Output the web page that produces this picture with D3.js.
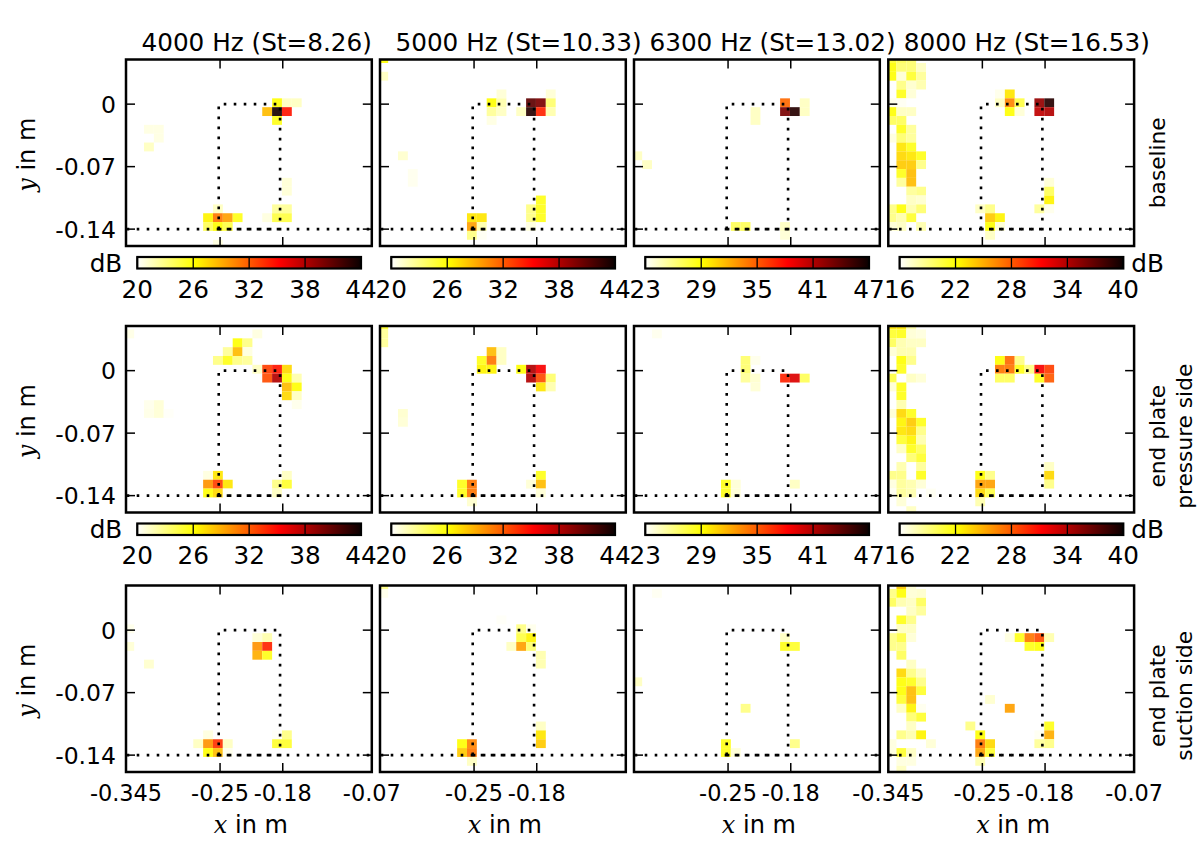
<!DOCTYPE html>
<html><head><meta charset="utf-8">
<script src="https://cdnjs.cloudflare.com/ajax/libs/d3/7.8.5/d3.min.js"></script>
<style>
html,body{margin:0;padding:0;background:#fff}
text{font-family:"DejaVu Sans";fill:#000}
</style></head><body><svg id="c" width="1200" height="847"></svg>
<script>
// Titles, rows, axis labels
const frequencies = ["4000 Hz (St=8.26)","5000 Hz (St=10.33)","6300 Hz (St=13.02)","8000 Hz (St=16.53)"];
const rowLabels = [["baseline"],["end plate","pressure side"],["end plate","suction side"]];
const colorRanges = [[20,44],[20,44],[23,47],[16,40]];
const colorTicks = [[20,26,32,38,44],[20,26,32,38,44],[23,29,35,41,47],[16,22,28,34,40]];
const xTickVals = [-0.25,-0.18];
const yTickVals = [0,-0.07,-0.14];
const yTickLabels = ["0","-0.07","-0.14"];
const outlineX = [-0.2515,-0.2515,-0.183,-0.183,-0.2515];
const outlineY = [-0.14,0,0,-0.14,-0.14];
// Cells: [grid column, grid row, level in dB]
const baseline4000 = [[2,8,20.7],[3,8,20.7],[3,9,20.7],[2,10,21.5],[15,5,26],[16,5,21.5],[17,5,21.5],[14,6,28.5],[15,6,43.5],[16,6,34.5],[15,7,25.5],[16,14,21],[16,15,21],[15,17,22.5],[16,17,22.5],[14,18,20.8],[15,18,24.5],[16,18,24.5],[9,17,21.5],[8,18,26.5],[9,18,31],[10,18,29.5],[11,18,25.5],[8,19,24],[9,19,26],[10,19,24.5],[9,21,20.8]];
const baseline5000 = [[0,0,26],[0,2,21.5],[2,11,21.2],[3,13,20.4],[3,14,20.4],[12,4,21],[11,5,26],[12,5,22],[11,6,22.5],[12,6,21.5],[11,7,20.7],[14,6,21.5],[15,5,41],[16,5,40],[15,6,43],[16,6,34],[17,4,21],[17,5,23.5],[17,6,22],[16,16,25.5],[15,17,23],[16,17,25.5],[15,18,23],[16,18,25.5],[15,19,20.8],[9,18,27],[10,18,27],[9,19,29.5],[10,19,22],[9,20,23],[10,20,20.3]];
const baseline6300 = [[0,11,24.5],[1,12,24.5],[12,6,24.5],[12,7,24.5],[15,5,34.5],[15,6,43],[16,6,46],[17,5,24.5],[17,6,24.5],[10,19,27],[11,19,27],[15,19,24.5],[15,20,24]];
const baseline8000 = [[0,0,21],[0,1,22],[0,2,22],[1,0,20],[1,1,19.5],[1,2,17],[1,3,19],[1,4,21.5],[2,0,19.5],[2,1,19.5],[2,2,21],[2,3,17.2],[2,4,17],[3,1,17.5],[3,2,18.5],[3,3,18],[0,5,16.5],[1,5,16.3],[0,6,22],[1,6,17.5],[2,6,17.5],[0,7,20],[1,7,20],[1,8,21.5],[2,8,18.5],[0,9,16.8],[1,9,19.5],[2,9,18.5],[1,10,23],[2,10,21.5],[1,11,23.5],[2,11,23],[3,11,21.5],[1,12,24],[2,12,24],[3,12,19],[1,13,21.5],[2,13,24.5],[1,14,18.5],[2,14,24.5],[2,15,18.5],[3,15,19],[2,16,17.5],[3,16,17.2],[0,17,19],[1,17,22],[2,17,18],[3,17,19.5],[0,18,19],[1,18,18],[2,18,21],[0,19,17],[1,19,17.5],[3,19,18],[11,4,16.5],[12,4,23],[11,5,17.5],[12,5,26.5],[13,5,20.5],[12,6,22],[13,6,17],[15,5,35],[16,5,39],[15,6,33.5],[16,6,34],[16,14,17],[16,15,20],[16,16,22.5],[16,17,16.5],[15,17,18.5],[9,17,17.5],[10,17,19],[10,18,24],[11,18,22.5],[10,19,22],[11,19,17],[10,20,17.5]];
const pressure4000 = [[0,1,20.6],[13,1,20.8],[11,2,26],[12,2,23],[10,3,22.5],[11,3,28.5],[12,3,20.8],[9,4,23],[10,4,25.5],[11,4,23],[12,4,22.5],[13,5,21.5],[14,5,33],[15,5,34.5],[16,5,27.5],[14,6,32.5],[15,6,38],[16,6,26],[17,6,22],[16,7,28.5],[17,7,26],[16,8,27.5],[17,8,21.5],[17,9,20.5],[2,9,20.5],[3,9,21],[2,10,20.6],[3,10,21],[4,10,20.2],[8,17,20.8],[9,17,27],[8,18,30],[9,18,33],[10,18,27],[8,19,26],[9,19,27.5],[10,19,20.2],[16,17,21.5],[15,18,23],[16,18,25],[15,19,21.5]];
const pressure5000 = [[0,0,25],[0,1,22.5],[0,2,22.5],[2,10,21.2],[2,11,21],[11,3,28.5],[12,3,21.5],[10,4,25.5],[11,4,31],[12,4,21.5],[10,5,26.5],[11,5,26.5],[14,5,26],[15,5,38],[16,5,35.5],[15,6,38],[16,6,32.5],[17,6,23.5],[16,7,27],[17,7,22],[16,17,25.5],[15,18,21],[16,18,28.5],[16,19,21],[8,18,25.5],[8,19,25.5],[9,18,31],[9,19,31],[9,20,21.2]];
const pressure6300 = [[2,1,23.4],[11,4,26.5],[11,5,26.5],[11,6,25.5],[12,4,23.5],[12,6,24.2],[12,7,24],[15,6,37],[16,6,39.5],[17,6,27],[9,18,28.5],[9,19,28.5],[10,18,24],[10,19,24],[16,18,24.5]];
const pressure8000 = [[0,0,23],[1,0,23],[2,0,18],[0,1,21],[1,1,21.5],[2,1,17],[3,1,16.8],[0,2,20],[1,2,18],[2,2,17.5],[3,2,17.5],[0,3,17],[1,3,18],[2,3,18],[1,4,22],[2,4,19],[1,5,21.5],[0,6,20.5],[2,6,17.5],[3,6,17],[0,7,17],[1,7,21.5],[1,8,21.5],[1,9,18],[0,10,17],[1,10,23.5],[2,10,21.5],[1,11,22.5],[2,11,24],[3,11,21.5],[1,12,23],[2,12,23.5],[3,12,19],[1,13,21],[2,13,22.5],[3,13,18],[1,14,17.5],[2,14,21.5],[3,14,20],[2,15,19.5],[3,15,21],[1,16,18],[3,16,18.5],[0,17,19],[1,17,19],[3,17,21.5],[0,18,16.8],[1,18,18.5],[2,18,18],[3,18,17],[0,19,16.3],[1,19,18.5],[2,19,18],[4,19,16.3],[1,20,17],[2,21,17.5],[11,4,22],[12,4,27.5],[13,4,19],[11,5,27],[12,5,27],[13,5,21.5],[14,5,19],[11,6,20],[12,6,20],[15,5,31.5],[16,5,29],[15,6,21.5],[16,6,28],[16,16,17.5],[16,17,23.5],[16,18,19],[9,17,22],[10,17,19],[9,18,25.5],[10,18,25.5],[9,19,23.5],[10,19,20.5],[9,20,18]];
const suction4000 = [[0,5,20.5],[0,7,21],[2,9,21.2],[13,6,21],[14,6,22],[13,7,30],[14,7,34],[13,8,29],[14,8,25.5],[8,17,20.8],[7,18,21.5],[8,18,30],[9,18,33.5],[10,18,21.5],[8,19,26],[9,19,28.5],[10,19,20.5],[16,17,23],[15,17,20.2],[15,18,25],[16,18,25]];
const suction5000 = [[0,0,23],[0,1,20.5],[12,4,20.2],[14,5,23],[15,5,20.5],[14,6,24.5],[15,6,26.5],[13,7,21.5],[14,7,29.5],[15,7,23.5],[16,8,22],[16,9,22],[16,16,21.5],[16,17,27],[16,18,28],[8,18,26],[8,19,28],[9,18,30.5],[9,19,31],[9,20,21.5]];
const suction6300 = [[2,1,23.3],[0,11,24.5],[15,6,24.5],[15,7,28.5],[16,7,28],[11,14,26],[9,18,28.5],[9,19,28.5],[10,19,24],[16,18,26]];
const suction8000 = [[1,0,24],[2,0,17],[0,1,19],[1,1,22],[2,1,17],[3,1,17.2],[0,2,20],[1,2,18],[2,2,17.5],[3,2,20],[2,3,17.5],[3,3,18.5],[1,4,21.5],[2,4,19],[1,5,17.5],[2,5,17.5],[0,6,19],[1,6,20.5],[2,6,17],[0,7,19],[1,7,19],[1,8,20],[2,9,17.5],[1,10,23.5],[2,10,19],[3,10,17.5],[1,11,22],[2,11,21.5],[3,11,19],[1,12,22],[2,12,24.5],[3,12,21],[1,13,21],[2,13,24.5],[1,14,17.5],[2,14,22.5],[3,14,16.4],[2,15,19.5],[3,15,21],[2,16,17.5],[1,17,19],[2,17,18],[3,17,22.5],[0,18,16.8],[4,18,17],[0,19,16.8],[1,19,21],[2,19,17.5],[1,20,16.8],[2,20,16.8],[1,21,17.5],[12,6,16.8],[13,6,21.5],[14,6,27],[15,6,28.5],[16,6,18],[14,7,21.5],[15,7,22],[10,13,17.2],[12,14,25.5],[8,16,19],[9,17,22],[9,18,27],[10,18,23.5],[9,19,25.5],[10,19,21],[9,20,18],[15,17,16.3],[15,18,18.5],[16,16,21.5],[16,17,25],[16,18,19]];
const panels = [
  [baseline4000,baseline5000,baseline6300,baseline8000],
  [pressure4000,pressure5000,pressure6300,pressure8000],
  [suction4000,suction5000,suction6300,suction8000]
];
const hotStops = [0,0.254,0.635,1];
const hotColors = ["#ffffff","#ffff00","#ff0000","#0a0000"];

const svg = d3.select("#c");
const W = 245.8, H = 186.5;
const colLeft = [126,380,634,888.3];
const rowTop = [59.5,326,585.5];
const xScale = d3.scaleLinear().domain([-0.355,-0.0806]).range([0,W]);
const yScale = d3.scaleLinear().domain([0.05,-0.1589]).range([0,H]);
const gridX = d3.scaleLinear().domain([0,1]).range([-0.3569,-0.3459]);
const gridY = d3.scaleLinear().domain([0,1]).range([0.056,0.0461]);
const defs = svg.append("defs");
const bigFont = "24.7px", tickFont = "22.4px";

panels.forEach((row,ri)=>row.forEach((cells,ci)=>{
  const g = svg.append("g").attr("transform",`translate(${colLeft[ci]},${rowTop[ri]})`);
  const clipId = `clip${ri}${ci}`;
  defs.append("clipPath").attr("id",clipId).append("rect").attr("width",W).attr("height",H);
  const color = d3.scaleLinear()
    .domain(hotStops.map(t=>colorRanges[ci][0]+t*(colorRanges[ci][1]-colorRanges[ci][0])))
    .range(hotColors).clamp(true);
  const body = g.append("g").attr("clip-path",`url(#${clipId})`);
  body.selectAll("rect.cell").data(cells).join("rect").attr("class","cell")
    .attr("x",d=>xScale(gridX(d[0])))
    .attr("y",d=>yScale(gridY(d[1])))
    .attr("width",d=>xScale(gridX(d[0]+1))-xScale(gridX(d[0])))
    .attr("height",d=>yScale(gridY(d[1]+1))-yScale(gridY(d[1])))
    .attr("fill",d=>color(d[2])).attr("fill-opacity",0.92);
  // dotted outline + chord line
  const line = d3.line().x(d=>xScale(d[0])).y(d=>yScale(d[1]));
  body.append("path").attr("d",line(outlineX.map((x,i)=>[x,outlineY[i]])))
    .attr("fill","none").attr("stroke","#000").attr("stroke-width",2.6).attr("stroke-dasharray","2.6 7.4");
  body.append("path").attr("d",line(xScale.domain().map(v=>[v,-0.14])))
    .attr("fill","none").attr("stroke","#000").attr("stroke-width",2.6).attr("stroke-dasharray","2.6 7.4").attr("stroke-dashoffset",-0.7);
  // ticks on all sides
  const tickLen = 9;
  const tk = g.append("g").attr("stroke","#000").attr("stroke-width",1.5);
  xTickVals.forEach(v=>{
    tk.append("line").attr("x1",xScale(v)).attr("x2",xScale(v)).attr("y1",0).attr("y2",tickLen);
    tk.append("line").attr("x1",xScale(v)).attr("x2",xScale(v)).attr("y1",H).attr("y2",H-tickLen);
  });
  yTickVals.forEach(v=>{
    tk.append("line").attr("y1",yScale(v)).attr("y2",yScale(v)).attr("x1",0).attr("x2",tickLen);
    tk.append("line").attr("y1",yScale(v)).attr("y2",yScale(v)).attr("x1",W).attr("x2",W-tickLen);
  });
  g.append("rect").attr("width",W).attr("height",H).attr("fill","none").attr("stroke","#000").attr("stroke-width",2.5);
  // y tick labels
  if(ci===0){
    yTickVals.forEach((v,i)=>g.append("text").attr("x",-10).attr("y",yScale(v)+8.5).attr("text-anchor","end").style("font-size","23.5px").text(yTickLabels[i]));
    const yl = g.append("text").attr("transform",`translate(-91,${H/2+2}) rotate(-90)`).attr("text-anchor","middle").style("font-size","24px");
    yl.append("tspan").style("font-family","DejaVu Serif").style("font-style","italic").text("y");
    yl.append("tspan").text(" in m");
  }
  // x labels on bottom row
  if(ri===2){
    const labs = xTickVals.map(v=>[xScale(v),String(v)]);
    if(ci===0||ci===3){ labs.unshift([0,"-0.345"]); labs.push([W,"-0.07"]); }
    labs.forEach(l=>g.append("text").attr("x",l[0]).attr("y",H+29).attr("text-anchor","middle").style("font-size",tickFont).text(l[1]));
    const xl = g.append("text").attr("x",W/2+2).attr("y",H+61).attr("text-anchor","middle").style("font-size","24px");
    xl.append("tspan").style("font-family","DejaVu Serif").style("font-style","italic").text("x");
    xl.append("tspan").text(" in m");
  }
  // colorbars
  if(ri<2){
    const cbW = 223.7, cbH = 11.5, cbY = H+11;
    const cb = g.append("g").attr("transform",`translate(11.3,${cbY})`);
    const cbx = d3.scaleLinear().domain(colorRanges[ci]).range([0,cbW]);
    const gradId = `grad${ri}${ci}`;
    const grad = defs.append("linearGradient").attr("id",gradId);
    hotStops.forEach((t,i)=>grad.append("stop").attr("offset",t).attr("stop-color",hotColors[i]));
    cb.append("rect").attr("width",cbW).attr("height",cbH).attr("fill",`url(#${gradId})`);
    colorTicks[ci].forEach(v=>{
      cb.append("line").attr("x1",cbx(v)).attr("x2",cbx(v)).attr("y1",0).attr("y2",cbH).attr("stroke","#000").attr("stroke-width",1.3);
      cb.append("text").attr("x",cbx(v)).attr("y",cbH+29).attr("text-anchor","middle").style("font-size",bigFont).text(v);
    });
    cb.append("rect").attr("width",cbW).attr("height",cbH).attr("fill","none").attr("stroke","#000").attr("stroke-width",2.2);
    if(ci===0) cb.append("text").attr("x",-15).attr("y",cbH+3).attr("text-anchor","end").style("font-size",bigFont).text("dB");
    if(ci===3) cb.append("text").attr("x",cbW+8).attr("y",cbH+3).style("font-size",bigFont).text("dB");
  }
  if(ri===0) g.append("text").attr("x",15.5).attr("y",-9).style("font-size",bigFont).text(frequencies[ci]);
  if(ci===3){
    const lines = rowLabels[ri];
    const shift = lines.length===1 ? 10 : 17;
    lines.forEach((t,i)=>{
      const xOff = W + (lines.length===1 ? 31 : 31 + i*27);
      g.append("text").attr("transform",`translate(${xOff},${H/2+shift}) rotate(-90)`).attr("text-anchor","middle").style("font-size","21.7px").text(t);
    });
  }
}));
</script></body></html>
